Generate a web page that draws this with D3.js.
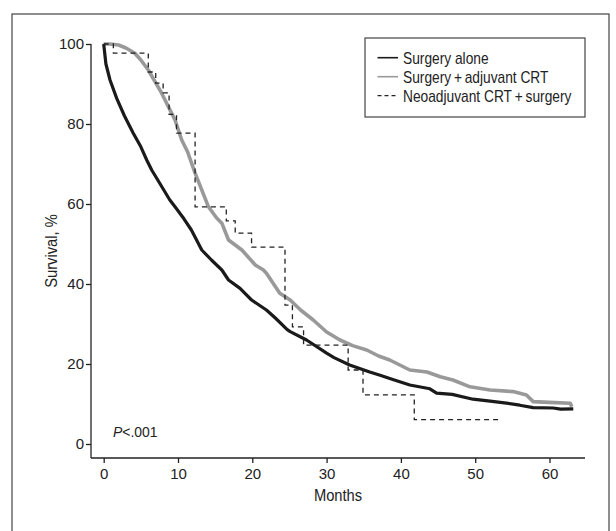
<!DOCTYPE html>
<html>
<head>
<meta charset="utf-8">
<script src="https://cdn.jsdelivr.net/npm/d3@7"></script>
<style>
  body { margin: 0; background: white; }
  svg text { font-family: "Liberation Sans", Arial, sans-serif; fill: #222; }
</style>
</head>
<body>
<div id="chart"></div>
<script>

// surgery alone (months, survival %)
var alone_months = [0, 0.3, 0.85, 1.75, 2.8, 3.98, 5.0, 5.79, 6.46, 7.6, 8.9, 9.6, 10.8, 11.8, 13.2, 14.5, 15.9, 16.8, 18.35, 19.9, 21.9, 23.1, 24.7, 25.1, 27.3, 30.0, 31.0, 33.1, 35.8, 37.2, 38.5, 41.2, 43.9, 44.8, 46.9, 49.7, 52.0, 54.2, 56.0, 57.8, 60.5, 61.5, 63.2];
var alone_surv   = [100, 95, 91, 86.4, 82, 77.7, 74.3, 71, 68.5, 65, 61, 59.3, 56.3, 53.5, 48.5, 46, 43.5, 41, 38.9, 36, 33.5, 31.5, 28.6, 28.1, 26, 22.7, 21.6, 19.75, 18, 17.2, 16.4, 14.75, 13.8, 12.7, 12.4, 11.2, 10.7, 10.2, 9.7, 9.1, 9.0, 8.7, 8.8];

// surgery + adjuvant CRT
var adjuvant_months = [0, 0.8, 2.0, 3.0, 4.2, 5.0, 6.0, 7.8, 9.6, 10.5, 11.3, 12.3, 14.1, 15.2, 15.9, 16.8, 18.6, 20.4, 21.5, 21.9, 23.7, 25.1, 26.5, 28.2, 30.0, 31.8, 33.5, 35.4, 37.0, 38.5, 41.2, 43.5, 45.3, 47.0, 49.3, 52.0, 55.1, 56.9, 57.8, 60.0, 62.8, 63.0];
var adjuvant_surv   = [100, 100, 99.75, 99, 97.7, 96, 93.5, 87.7, 81, 76, 73, 67.7, 59.3, 56.5, 55.2, 51, 48.5, 44.75, 43.5, 42.7, 37.7, 36, 33.5, 31, 28, 26, 24.6, 23.5, 22, 21, 18.5, 18, 16.8, 16, 14.3, 13.5, 13.1, 12.25, 10.6, 10.4, 10.2, 9.3];

// neoadjuvant CRT + surgery (step function)
var neo_months = [0, 1.3, 6.0, 7.0, 8.0, 8.8, 9.8, 12.3, 16.5, 17.7, 19.9, 24.4, 25.4, 26.9, 32.9, 34.9, 41.8, 53.6];
var neo_surv   = [100, 97.7, 93, 90.2, 87.8, 82.4, 77.7, 59.3, 55.8, 52.7, 49.2, 34.7, 29.3, 24.7, 18.5, 12.3, 6.1, 6.1];

var x_ticks = [0, 10, 20, 30, 40, 50, 60];
var y_ticks = [0, 20, 40, 60, 80, 100];

var legend_labels = ['Surgery alone', 'Surgery\u2009+\u2009adjuvant CRT', 'Neoadjuvant CRT\u2009+\u2009surgery'];

var width = 616;
var height = 531;

var svg = d3.select('#chart')
  .append('svg')
  .attr('width', width)
  .attr('height', height);

// outer frame
svg.append('rect')
  .attr('x', 12)
  .attr('y', 14)
  .attr('width', 597)
  .attr('height', 600)
  .style('fill', 'none')
  .style('stroke', '#444')
  .style('stroke-width', 1.2);

var x = d3.scaleLinear().domain([0, 60]).range([103.7, 549.5]);
var y = d3.scaleLinear().domain([0, 100]).range([444, 44]);

var axis_left = 91;
var axis_bottom = 458;

// axes
var x_axis = svg.append('g')
  .attr('transform', 'translate(0,' + axis_bottom + ')')
  .call(d3.axisBottom(x).tickValues(x_ticks).tickSize(5).tickPadding(5));

x_axis.select('.domain')
  .attr('d', 'M' + axis_left + ',0H585');

var y_axis = svg.append('g')
  .attr('transform', 'translate(' + axis_left + ',0)')
  .call(d3.axisLeft(y).tickValues(y_ticks).tickSize(5).tickPadding(2));

y_axis.select('.domain')
  .attr('d', 'M0,' + y(100) + 'V' + axis_bottom);

svg.selectAll('.domain, .tick line')
  .style('stroke', '#222')
  .style('stroke-width', 1.3);

svg.selectAll('.tick text')
  .style('font-size', '15px')
  .style('fill', '#222');

// axis titles (narrowed to look like the condensed face)
svg.append('text')
  .text('Months')
  .attr('transform', 'translate(338,501) scale(0.92,1)')
  .style('text-anchor', 'middle')
  .style('font-size', '16px');

svg.append('text')
  .text('Survival, %')
  .attr('transform', 'translate(57,251) rotate(-90) scale(0.92,1)')
  .style('text-anchor', 'middle')
  .style('font-size', '16px');

// curves
var line = d3.line()
  .x(function(d){ return x(d[0]); })
  .y(function(d){ return y(d[1]); });

var step_line = d3.line()
  .x(function(d){ return x(d[0]); })
  .y(function(d){ return y(d[1]); })
  .curve(d3.curveStepAfter);

svg.append('path')
  .datum(d3.zip(adjuvant_months, adjuvant_surv))
  .attr('d', line)
  .style('fill', 'none')
  .style('stroke', '#999')
  .style('stroke-width', 3.6)
  .style('stroke-linejoin', 'round');

svg.append('path')
  .datum(d3.zip(alone_months, alone_surv))
  .attr('d', line)
  .style('fill', 'none')
  .style('stroke', '#1a1a1a')
  .style('stroke-width', 3.2)
  .style('stroke-linejoin', 'round');

svg.append('path')
  .datum(d3.zip(neo_months, neo_surv))
  .attr('d', step_line)
  .style('fill', 'none')
  .style('stroke', '#222')
  .style('stroke-width', 1.3)
  .style('stroke-dasharray', '5,4');

// p value
var p_text = svg.append('text')
  .attr('transform', 'translate(113,437) scale(0.93,1)')
  .style('font-size', '15px');
p_text.append('tspan').text('P').style('font-style', 'italic');
p_text.append('tspan').text('<.001');

// legend
var legend = svg.append('g');

legend.append('rect')
  .attr('x', 365)
  .attr('y', 38)
  .attr('width', 220)
  .attr('height', 79)
  .style('fill', 'white')
  .style('stroke', '#444')
  .style('stroke-width', 1.2);

var legend_styles = [
  {stroke: '#1a1a1a', width: 1.6, dash: null},
  {stroke: '#999', width: 1.6, dash: null},
  {stroke: '#222', width: 1.2, dash: '4,3'}
];

legend_labels.forEach(function(label, i){
  var row_y = 57.7 + i * 19;

  legend.append('line')
    .attr('x1', 377.5)
    .attr('x2', 398)
    .attr('y1', row_y)
    .attr('y2', row_y)
    .style('stroke', legend_styles[i].stroke)
    .style('stroke-width', legend_styles[i].width)
    .style('stroke-dasharray', legend_styles[i].dash);

  legend.append('text')
    .text(label)
    .attr('transform', 'translate(403,' + (row_y + 5.8) + ') scale(0.86,1)')
    .style('font-size', '16px');
});

</script>
</body>
</html>
